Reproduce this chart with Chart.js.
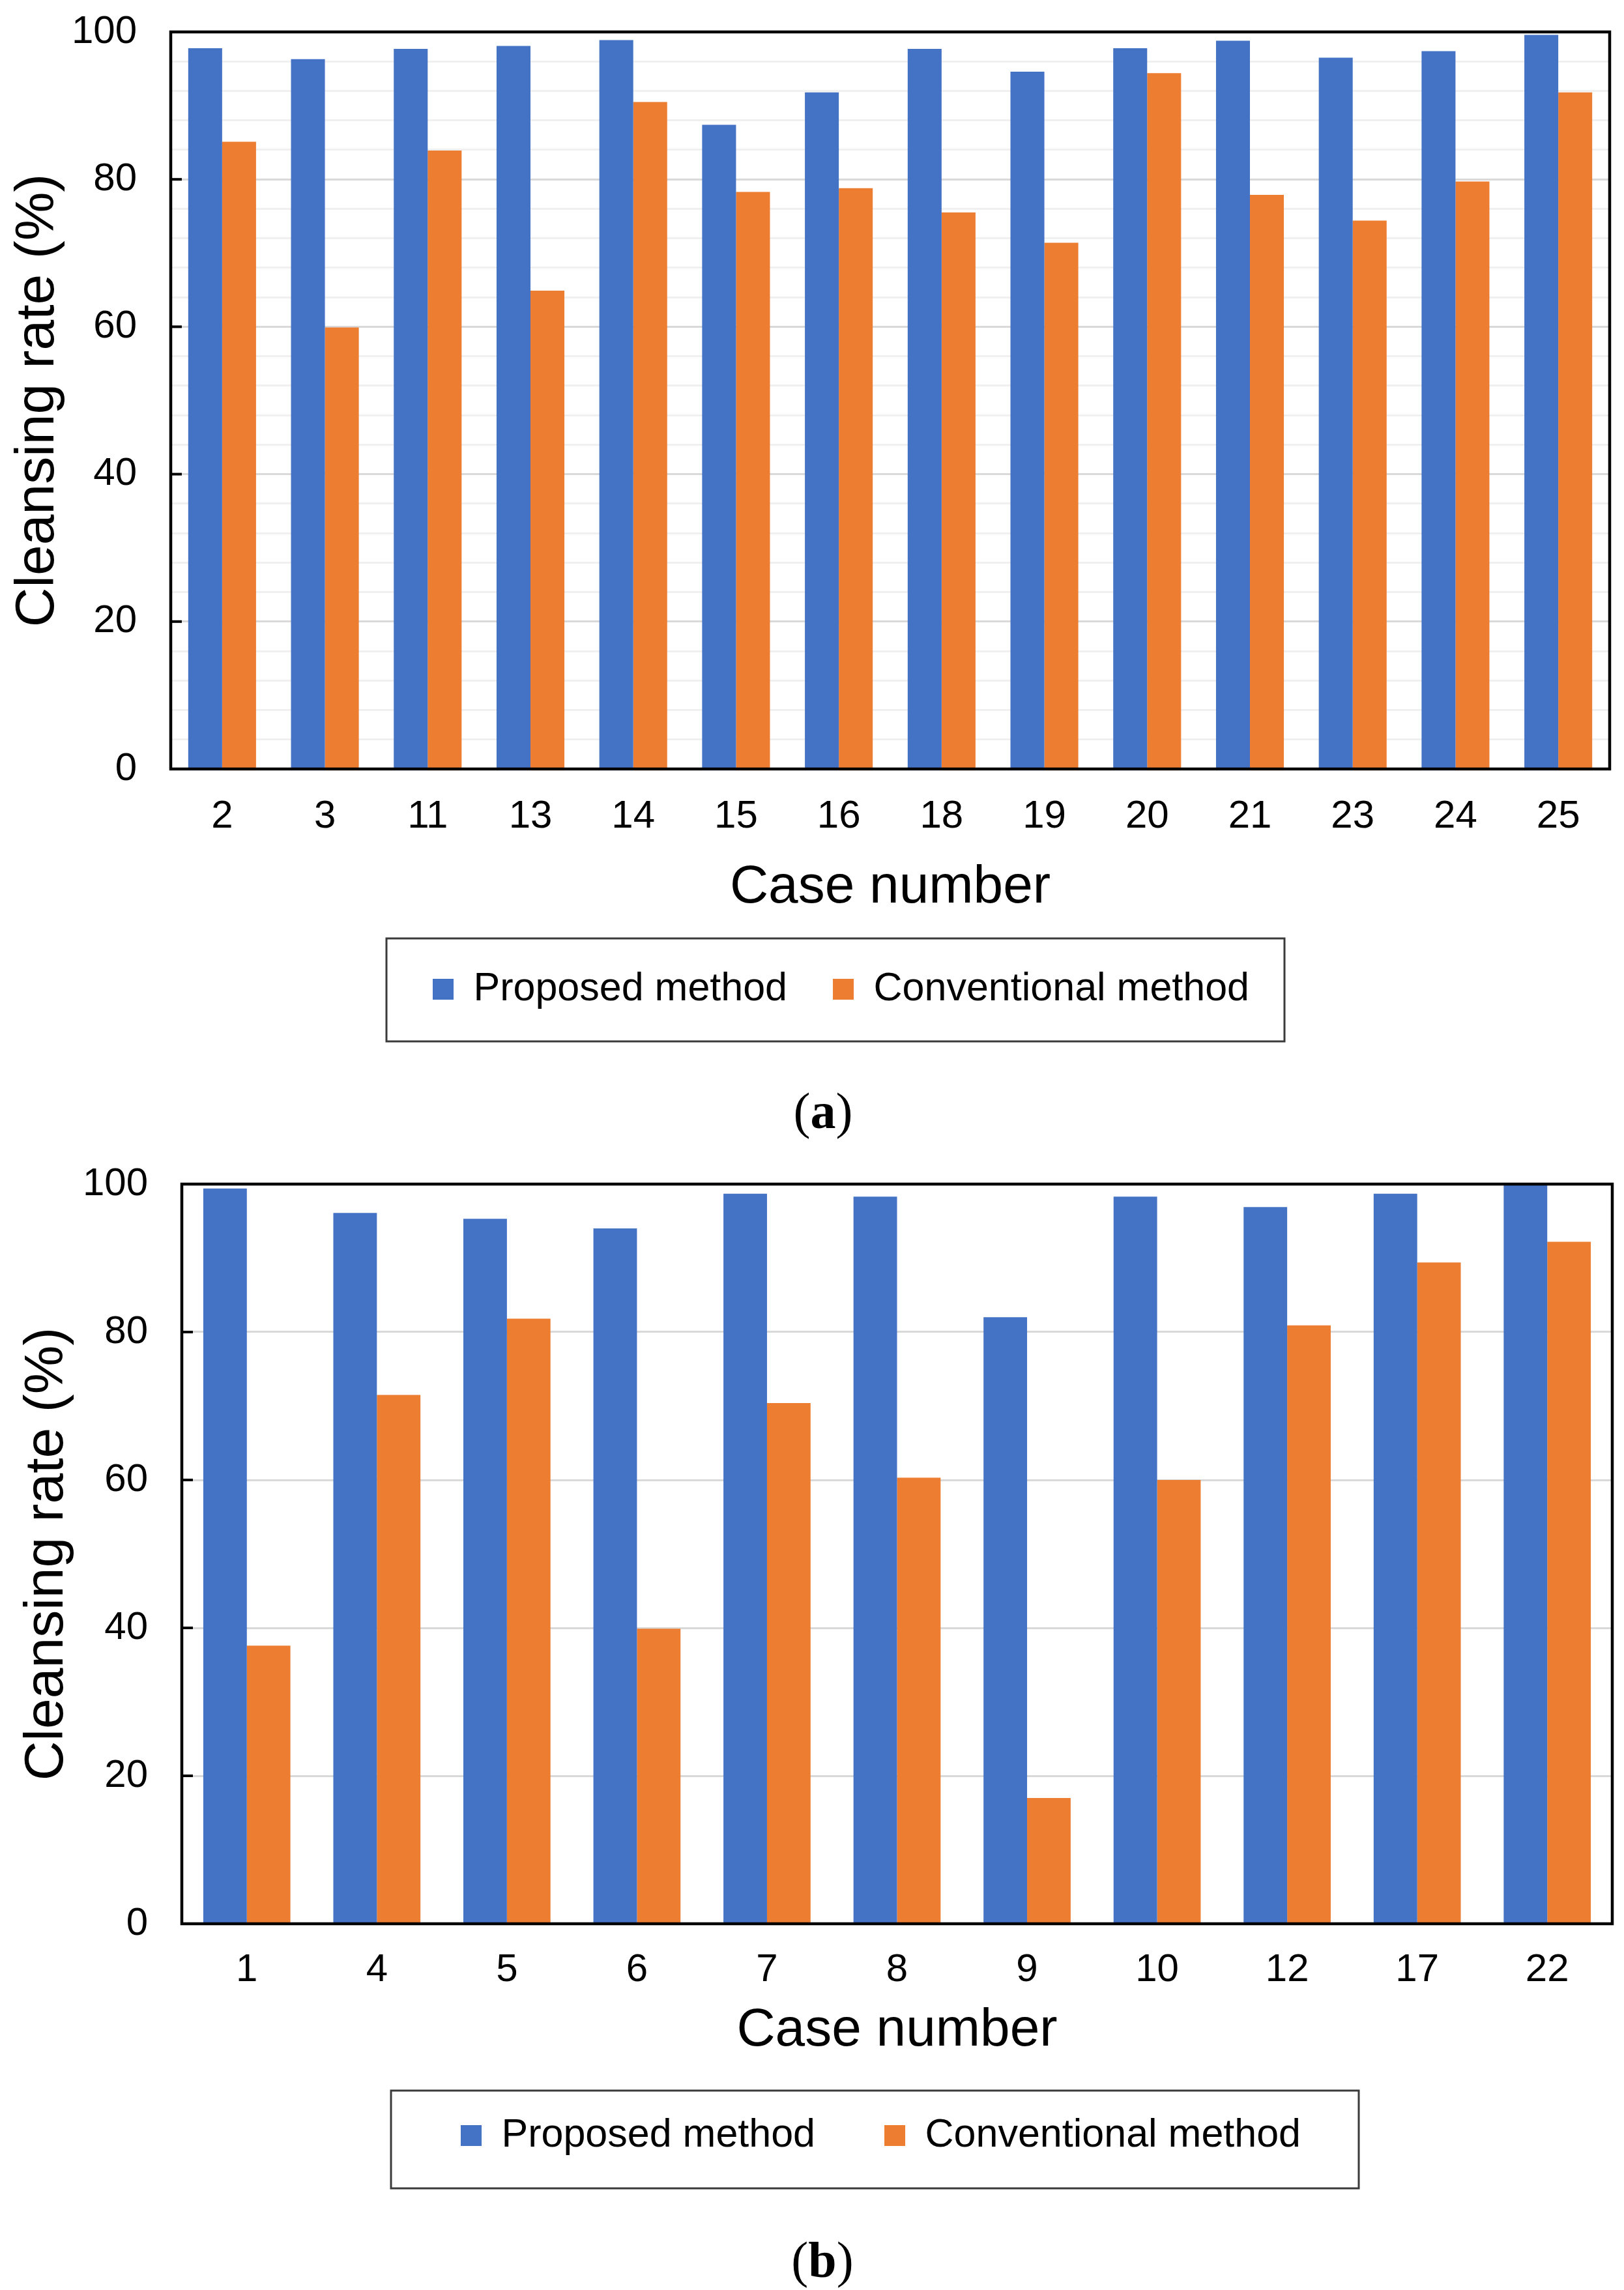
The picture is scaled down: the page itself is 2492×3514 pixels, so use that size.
<!DOCTYPE html>
<html>
<head>
<meta charset="utf-8">
<script src="https://cdn.jsdelivr.net/npm/chart.js@4/dist/chart.umd.min.js"></script>
<style>
  html, body { margin: 0; padding: 0; background: #ffffff; }
  #page { position: relative; width: 2492px; height: 3514px; background: #ffffff; overflow: hidden; }
  .panel { position: absolute; left: 0; width: 2492px; }
  .caption { position: absolute; width: 300px; text-align: center; font-family: "Liberation Serif", "DejaVu Serif", serif; font-size: 78px; line-height: 80px; color: #000; }
  .caption b { font-weight: bold; }
</style>
</head>
<body>
<div id="page">
  <div class="panel" style="top:0px;height:1640px;"><canvas id="chartA" width="2492" height="1640"></canvas></div>
  <div class="caption" style="left:1113px;top:1665px;">(<b>a</b>)</div>
  <div class="panel" style="top:1760px;height:1754px;"><canvas id="chartB" width="2492" height="1754"></canvas></div>
  <div class="caption" style="left:1112px;top:3428px;">(<b>b</b>)</div>
</div>
<script>
// ---------- data ----------
const casesA = ['2', '3', '11', '13', '14', '15', '16', '18', '19', '20', '21', '23', '24', '25'];
const proposedA = [97.8, 96.3, 97.7, 98.1, 98.9, 87.4, 91.8, 97.7, 94.6, 97.8, 98.8, 96.5, 97.4, 99.6];
const conventionalA = [85.1, 59.9, 83.9, 64.9, 90.5, 78.3, 78.8, 75.5, 71.4, 94.4, 77.9, 74.4, 79.7, 91.8];

const casesB = ['1', '4', '5', '6', '7', '8', '9', '10', '12', '17', '22'];
const proposedB = [99.4, 96.1, 95.3, 94.0, 98.7, 98.3, 82.0, 98.3, 96.9, 98.7, 99.9];
const conventionalB = [37.6, 71.5, 81.8, 39.9, 70.4, 60.3, 17.0, 60.0, 80.9, 89.4, 92.2];

const seriesNames = ['Proposed method', 'Conventional method'];
const yTickValues = [0, 20, 40, 60, 80, 100];
const xTitle = 'Case number';
const yTitle = 'Cleansing rate (%)';

// ---------- styling ----------
const BLUE = '#4472C4';
const ORANGE = '#ED7D31';
Chart.defaults.font.family = '"Liberation Sans", Arial, sans-serif';
Chart.defaults.color = '#000000';

const framePlugin = {
  id: 'framePlugin',
  beforeDraw(chart, args, opts) {
    const lg = chart.legend;
    if (lg && lg.lineWidths) {
      const p = lg.options.labels.padding;
      const fs = lg.options.labels.font.size;
      const bh = lg.options.labels.boxHeight || fs;
      const itemH = Math.max(fs, bh);
      const lw = lg.lineWidths[0];
      const L = opts.itemX - p - 40;
      lg.left = L;
      lg.right = 2 * opts.itemX - L - p + lw;
      lg.top = opts.textY - itemH / 2 - p;
      lg.bottom = opts.boxBottom + 10;
    }
  },
  afterDraw(chart, args, opts) {
    const {ctx, chartArea: a} = chart;
    const y = chart.scales.y;
    ctx.save();
    ctx.strokeStyle = '#000000';
    ctx.lineWidth = 4;
    y.ticks.forEach((t) => {
      if (yTickValues.includes(t.value)) {
        const py = y.getPixelForValue(t.value);
        ctx.beginPath();
        ctx.moveTo(a.left, py);
        ctx.lineTo(a.left + 17, py);
        ctx.stroke();
      }
    });
    ctx.lineWidth = 4.5;
    ctx.strokeRect(a.left, a.top, a.right - a.left, a.bottom - a.top);
    ctx.strokeStyle = '#3a3a3a';
    ctx.lineWidth = 3;
    ctx.strokeRect(opts.boxLeft, opts.boxTop, opts.boxRight - opts.boxLeft, opts.boxBottom - opts.boxTop);
    ctx.restore();
  }
};

function makeChart(id, cats, prop, conv, cfg) {
  return new Chart(document.getElementById(id), {
    type: 'bar',
    data: {
      labels: cats,
      datasets: [
        { label: seriesNames[0], data: prop, backgroundColor: BLUE, borderWidth: 0 },
        { label: seriesNames[1], data: conv, backgroundColor: ORANGE, borderWidth: 0 }
      ]
    },
    plugins: [framePlugin],
    options: {
      responsive: false,
      animation: false,
      devicePixelRatio: 1,
      layout: { padding: cfg.padding },
      datasets: { bar: { categoryPercentage: cfg.catPct, barPercentage: 1.0 } },
      plugins: {
        tooltip: { enabled: false },
        title: { display: false },
        legend: {
          display: true,
          position: 'bottom',
          labels: {
            font: { size: 61 },
            color: '#000000',
            boxWidth: 32,
            boxHeight: 32,
            padding: cfg.legendPad
          }
        },
        framePlugin: cfg.legendBox
      },
      scales: {
        x: {
          grid: { display: false, drawTicks: false },
          border: { display: false },
          ticks: { font: { size: 60 }, color: '#000000', padding: cfg.xTickPad, autoSkip: false, maxRotation: 0 },
          title: { display: true, text: xTitle, font: { size: 82 }, color: '#000000', padding: { top: 0, bottom: 0 } },
          afterFit: (s) => { s.height = cfg.xHeight; }
        },
        y: {
          min: 0,
          max: 100,
          ticks: {
            stepSize: cfg.step,
            font: { size: 60 },
            color: '#000000',
            padding: 12,
            autoSkip: false,
            callback: (v) => (yTickValues.includes(v) ? String(v) : '')
          },
          grid: {
            drawTicks: true,
            tickLength: 40,
            tickColor: 'rgba(0,0,0,0)',
            lineWidth: 3,
            color: (c) => (c.tick && yTickValues.includes(c.tick.value) ? '#d9d9d9' : '#f0f0f0')
          },
          border: { display: false },
          title: { display: true, text: yTitle, font: { size: 84 }, color: '#000000', padding: { top: cfg.yTitlePad, bottom: 0 } },
          afterFit: (s) => { s.width = cfg.yWidth; }
        }
      }
    }
  });
}

makeChart('chartA', casesA, proposedA, conventionalA, {
  padding: { left: 0, top: 49, right: 22, bottom: 87 },
  catPct: 0.66,
  legendPad: 70,
  xTickPad: 37,
  xHeight: 232,
  step: 4,
  yWidth: 262,
  yTitlePad: 8,
  legendBox: { boxLeft: 593, boxRight: 1971, boxTop: 1440, boxBottom: 1598, itemX: 664, textY: 1518 }
});

makeChart('chartB', casesB, proposedB, conventionalB, {
  padding: { left: 0, top: 57, right: 18, bottom: 171 },
  catPct: 0.67,
  legendPad: 106,
  xTickPad: 35,
  xHeight: 214,
  step: 20,
  yWidth: 279,
  yTitlePad: 22,
  legendBox: { boxLeft: 600, boxRight: 2085, boxTop: 1448, boxBottom: 1598, itemX: 707, textY: 1517 }
});
</script>
</body>
</html>
